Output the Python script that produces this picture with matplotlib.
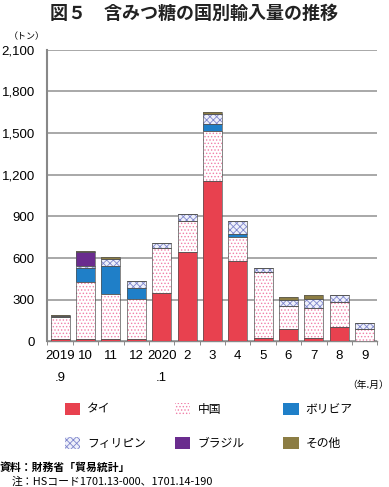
import numpy as np
import matplotlib.pyplot as plt
from matplotlib.patches import Patch

plt.rcParams['font.family'] = ['Noto Sans CJK JP', 'DejaVu Sans']
plt.rcParams['hatch.linewidth'] = 0.6

# monthly imports (t) by country
months = ['2019\n.9', '10', '11', '12', '2020\n.1', '2', '3', '4', '5', '6', '7', '8', '9']
thai = [20, 20, 20, 20, 348, 643, 1154, 576, 22, 89, 22, 103, 0]
china = [155, 405, 322, 285, 322, 227, 360, 173, 479, 167, 220, 178, 91]
bolivia = [0, 100, 200, 80, 0, 0, 48, 23, 0, 0, 0, 0, 0]
philippines = [10, 18, 50, 52, 40, 45, 72, 92, 25, 39, 65, 55, 39]
brazil = [0, 100, 0, 0, 0, 0, 0, 0, 0, 0, 0, 0, 0]
other = [5, 7, 15, 0, 0, 5, 15, 0, 0, 24, 24, 0, 0]

names = ['タイ', '中国', 'ボリビア', 'フィリピン', 'ブラジル', 'その他']
series = [thai, china, bolivia, philippines, brazil, other]
faces = ['#E8414F', 'white', '#1F7FC8', '#EEF0FA', '#6A2C8E', '#8C7D44']
hatches = [None, '.....', None, 'xxxxx', None, None]
hatch_cols = ['#E8414F', '#F07FA8', '#1F7FC8', '#7F86CC', '#6A2C8E', '#8C7D44']

fig = plt.figure(figsize=(3.89, 4.87), dpi=100)
ax = fig.add_axes([0.122, 0.299, 0.848, 0.599])

x = np.arange(len(months))
bottom = np.zeros(len(months))
for vals, fc, h, hc in zip(series, faces, hatches, hatch_cols):
    vals = np.array(vals, dtype=float)
    ax.bar(x, vals, 0.75, bottom=bottom, color=fc, hatch=h, edgecolor=hc, linewidth=0, zorder=3)
    ax.bar(x, vals, 0.75, bottom=bottom, fill=False, edgecolor='#555555', linewidth=0.5, zorder=4)
    bottom += vals

ax.set_xlim(-0.5, len(months) - 0.5)
ax.set_ylim(0, 2100)
ax.set_yticks(np.arange(0, 2101, 300))
ax.set_yticklabels([f'{v:,}' for v in range(0, 2101, 300)], fontsize=9.5, family='Liberation Sans')
ax.yaxis.grid(True, color='#999999', linewidth=1.2, zorder=0)
ax.tick_params(axis='y', length=0, pad=9)

ax.set_xticks(x)
ax.set_xticklabels(months, fontsize=9.5, family='Liberation Sans', linespacing=2.1, va='top')
ax.set_xticks(np.arange(-0.5, len(months), 1), minor=True)
ax.tick_params(axis='x', which='major', length=0, pad=6)
ax.tick_params(axis='x', which='minor', length=3, color='#777777')

for s in ['top', 'right']:
    ax.spines[s].set_visible(False)
ax.spines['left'].set_color('#888888')
ax.spines['left'].set_linewidth(1.5)
ax.spines['bottom'].set_color('#888888')
ax.spines['bottom'].set_linewidth(1.0)

fig.text(0.5, 0.973, '図５　含みつ糖の国別輸入量の推移', ha='center', va='center',
         fontsize=13, fontweight='bold', color='#222222')
fig.text(0.068, 0.924, '（トン）', ha='center', va='center', fontsize=6.5)
fig.text(1.0, 0.21, '（年.月）', ha='right', va='center', fontsize=7)

handles = [Patch(facecolor=fc, edgecolor=hc, hatch=h, linewidth=0)
           for fc, h, hc in zip(faces, hatches, hatch_cols)]
# one legend per column so the columns sit where the reference has them
for col, xpos in enumerate([0.167, 0.450, 0.728]):
    idx = [col, col + 3]
    leg = fig.legend([handles[i] for i in idx], [names[i] for i in idx],
                     loc='upper left', bbox_to_anchor=(xpos, 0.1735), frameon=False,
                     fontsize=8.5, handlelength=1.3, handleheight=1.3,
                     labelspacing=1.75, handletextpad=0.6, borderpad=0, borderaxespad=0)

fig.text(0.0, 0.039, '資料：財務省「貿易統計」', ha='left', va='center', fontsize=7.8, fontweight='bold')
fig.text(0.03, 0.011, '注：HSコード1701.13-000、1701.14-190', ha='left', va='center', fontsize=7.8)

plt.savefig('out.png', dpi=100)
